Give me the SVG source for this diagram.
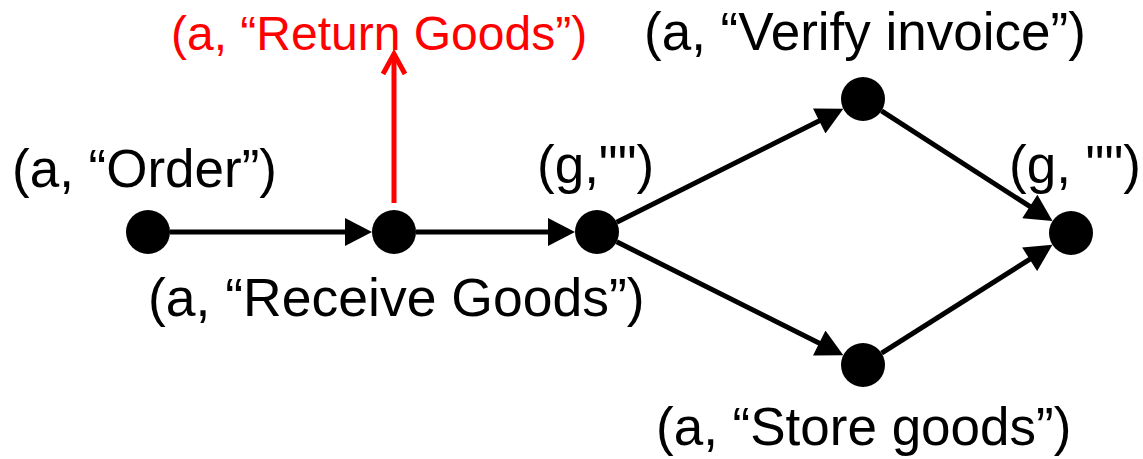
<svg xmlns="http://www.w3.org/2000/svg" width="1143" height="459" viewBox="0 0 1143 459">
<style>
  text { font-family: "Liberation Sans", Arial, sans-serif; font-size: 53px; fill: #000; }
  .red { fill: #ff0000; font-size: 48px; }
  .edge { stroke: #000; stroke-width: 5; fill: none; }
  .redge { stroke: #ff0000; stroke-width: 5; fill: none; }
  .node { fill: #000; }
</style>
<defs>
  <marker id="ah" markerUnits="userSpaceOnUse" markerWidth="28" markerHeight="28" viewBox="0 0 27 28" refX="17" refY="14" orient="auto">
    <path d="M0,0 L27,14 L0,28 Z" fill="#000"/>
  </marker>
</defs>
<rect width="1143" height="459" fill="#fff"/>
<g id="connectors">
  <line class="edge" x1="170" y1="232" x2="362" y2="232" marker-end="url(#ah)"/>
  <line class="edge" x1="416" y1="232" x2="565" y2="232" marker-end="url(#ah)"/>
  <line class="edge" x1="616.7" y1="222.2" x2="834.4" y2="113.3" marker-end="url(#ah)"/>
  <line class="edge" x1="616.7" y1="241.8" x2="834.4" y2="350.7" marker-end="url(#ah)"/>
  <line class="edge" x1="881.5" y1="110.9" x2="1044.1" y2="215.7" marker-end="url(#ah)"/>
  <line class="edge" x1="881.6" y1="353.2" x2="1044.0" y2="250.2" marker-end="url(#ah)"/>
  <line class="redge" x1="394" y1="203" x2="394" y2="55"/>
  <polyline class="redge" points="383,74 394,54 405,74"/>
</g>
<g id="order"><circle class="node" cx="148" cy="232" r="22"/><text x="12" y="187">(a, “Order”)</text></g>
<g id="receive"><circle class="node" cx="394" cy="232" r="22"/><text x="148" y="316" style="font-size:53.5px">(a, “Receive Goods”)</text></g>
<g id="return"><text class="red" x="171" y="50">(a, “Return Goods”)</text></g>
<g id="gateway1"><circle class="node" cx="597" cy="232" r="22"/><text x="537" y="183">(g,"")</text></g>
<g id="verify"><circle class="node" cx="863" cy="99" r="22"/><text x="644" y="50">(a, “Verify invoice”)</text></g>
<g id="store"><circle class="node" cx="863" cy="365" r="22"/><text x="656" y="445">(a, “Store goods”)</text></g>
<g id="gateway2"><circle class="node" cx="1071" cy="233" r="22"/><text x="1009" y="183">(g, "")</text></g>
</svg>
